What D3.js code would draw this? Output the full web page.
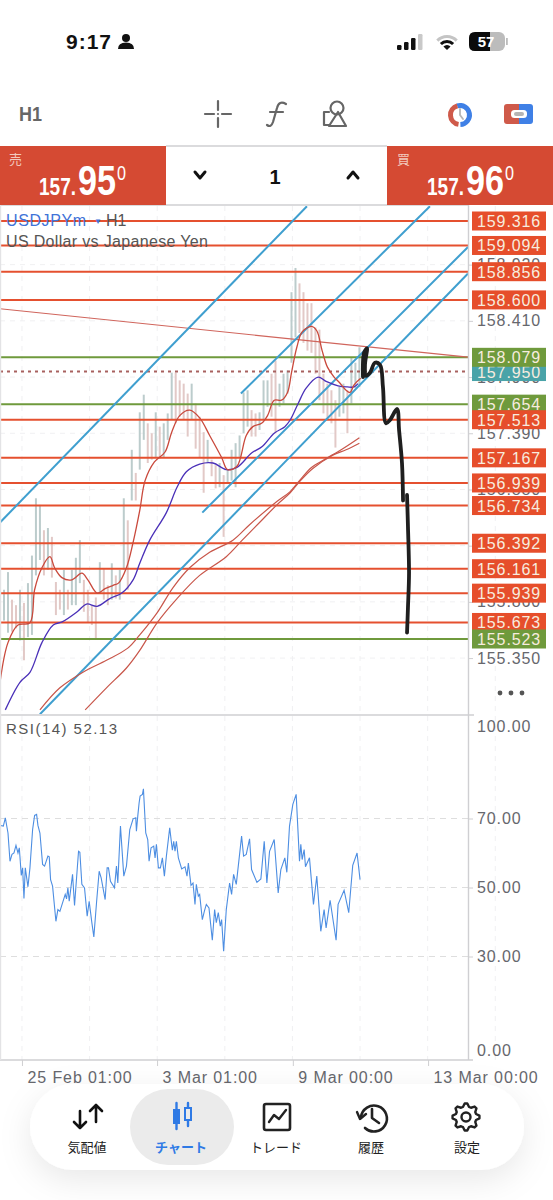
<!DOCTYPE html>
<html><head><meta charset="utf-8">
<script src="https://cdn.jsdelivr.net/npm/d3@7"></script>
<style>
html,body{margin:0;padding:0;background:#fff}
svg{display:block}
text{font-family:"Liberation Sans",Arial,sans-serif}
.cjk{font-family:"Noto Sans CJK JP",sans-serif}
</style></head><body>
<svg id="c" width="553" height="1200"></svg>
<script>
// ---------- data ----------
const symbol = "USDJPYm", period = "H1", description = "US Dollar vs Japanese Yen";
const bid = 157.950, ask = 157.960;
const priceTicks = [158.920,158.410,157.900,157.390,156.880,156.370,155.860,155.350];
const rsiTicks = [100,70,50,30,0];
const rsiLabel = "RSI(14) 52.13";
const timeTickPos = [16.5,118,220,321.6];
const timeTickLabels = ["25 Feb 01:00","3 Mar 01:00","9 Mar 00:00","13 Mar 00:00"];
const levelPrices = [159.316,159.094,158.856,158.600,158.079,157.654,157.513,157.167,156.939,156.734,156.392,156.161,155.939,155.673,155.523];
const levelKinds  = ["r","r","r","r","g","g","r","r","r","r","r","r","r","r","g"];

const barPos = d3.range(0,271,3);
const barHigh = [156.01,155.97,156.13,155.88,155.83,155.97,155.85,156.03,156.28,156.80,156.74,156.51,156.53,156.45,156.04,155.97,156.15,155.97,156.15,156.26,156.42,156.06,155.97,155.83,155.90,156.22,156.16,156.01,156.21,156.10,156.15,156.80,156.60,157.24,157.03,157.58,157.74,157.48,157.39,157.58,157.45,157.48,157.57,157.94,157.94,157.87,157.84,157.75,157.84,157.66,157.54,157.40,157.33,157.15,157.10,157.12,157.01,157.06,157.24,157.30,157.37,157.76,157.78,157.60,157.57,157.58,157.87,157.87,157.93,158.05,157.84,157.93,157.96,158.67,158.89,158.75,158.67,158.57,158.57,158.35,158.33,157.93,157.84,157.78,157.69,157.81,157.84,157.78,158.08,158.03,158.17];
const barLow = [155.65,155.69,155.58,155.59,155.62,155.51,155.33,155.54,155.56,156.10,156.24,156.10,156.15,156.08,155.74,155.79,155.74,155.79,155.83,155.83,156.03,155.77,155.67,155.65,155.53,155.94,155.88,155.83,155.88,155.89,155.88,156.15,155.97,156.78,156.78,157.06,157.33,157.12,157.15,157.17,157.16,157.17,157.33,157.51,157.48,157.54,157.51,157.36,157.51,157.25,157.17,156.85,157.12,157.00,156.89,156.90,156.45,156.94,156.96,156.90,157.17,157.39,157.45,157.36,157.36,157.42,157.51,157.63,157.54,157.39,157.63,157.66,157.75,158.03,158.26,158.30,158.21,158.14,158.12,157.93,157.69,157.57,157.51,157.48,157.26,157.54,157.57,157.39,157.66,157.80,157.81];

const fastPos = [0,6,13.5,22.5,26,31.5,37.5,41,46.5,54,61.5,66,73,79,85,89,95,100,105,109,116,124,129,135,142.5,150,157.5,166.5,171,178,185,190,196.5,201,206,211.5,216,219,223,227,234,238,242,246,251,255,260,263,266,271];
const fastVal = [155.13,155.49,155.65,155.67,155.97,156.17,156.27,156.17,156.08,156.06,156.12,156.06,155.94,155.98,156.01,156.03,156.17,156.40,156.69,156.96,157.13,157.22,157.40,157.55,157.60,157.53,157.37,157.17,157.06,157.09,157.37,157.45,157.48,157.55,157.69,157.69,157.76,157.94,158.17,158.31,158.36,158.32,158.14,157.99,157.90,157.85,157.78,157.76,157.83,157.89];
const midPos = [4,15,22.5,31.5,40,47,58,65,73,82.5,91.5,100,105,112.5,125,133,140,150,160,170,178,189,197,206,214,218,224,230,239,245,254,261,266,269];
const midVal = [154.88,155.13,155.22,155.49,155.65,155.68,155.77,155.84,155.82,155.89,155.94,156.06,156.21,156.42,156.67,156.90,157.04,157.11,157.12,157.06,157.08,157.21,157.27,157.39,157.45,157.51,157.66,157.80,157.90,157.86,157.82,157.81,157.81,157.84];
const slowAPos = [30,45,62,80,96,105,118,130,142.5,157.5,175,187.5,208,218,225,234,245,257.5,270];
const slowAVal = [154.88,155.08,155.22,155.33,155.44,155.56,155.76,155.99,156.17,156.31,156.42,156.56,156.77,156.86,156.96,157.08,157.16,157.25,157.35];
const slowBPos = [64,80,95,105,118,133,150,170,182,195,208,218,225,235,250,260,270];
const slowBVal = [154.88,155.08,155.26,155.42,155.67,155.89,156.10,156.27,156.42,156.58,156.74,156.85,156.95,157.07,157.19,157.24,157.30];

const channelPos = [[0,230.6],[181,323],[152,351.6],[30,351.6]];
const channelVal = [[156.58,159.45],[157.75,159.45],[156.67,159.08],[154.84,158.84]];
const trendPos = [0,351.6], trendVal = [158.52,158.08];

const sketchAPos = [272.7,273.5,275.7,274.2,275,278,281.7,285.5,287.7,290,293,298.3,299.8,302,302.8];
const sketchAVal = [157.90,158.12,158.16,158.01,157.91,157.94,158.03,158.01,157.81,157.48,157.51,157.61,157.42,157.12,156.78];
const sketchBPos = [305.8,306.5,307.3,306.5,305.8];
const sketchBVal = [156.83,156.54,156.12,155.81,155.58];

const rsiPos = [0,2.5,4,6,7.5,9,10.5,12,13.5,14.5,16,17,18,19,21,22.5,24.5,26,27.5,28.5,30,32,33.5,36,37,38,39.5,42,43.5,45,49,50,51,52,54.5,56,59,60,61.5,63.5,65.5,67,69,70.5,72.5,74.5,76,79,80.5,81.5,83,86,87.5,88.5,90.5,93,95,97.5,100,102,102.5,103.5,104.5,105.25,107,107.75,109.5,111,112,113.5,115.5,116.5,117.5,119,120.5,122,123.5,125,127.5,129.5,130.5,131.5,132.5,134,136.5,139,140.5,141.5,143.5,145,146.5,147.5,149,150,152,153.5,155,157,159.5,161.25,162.5,164,165.5,166.5,168,170,172.5,174,175.5,177.5,181.5,183,185,187.5,189,193,196,198.5,200.5,202.5,206,209,211,214,215.5,217.5,220,222.5,225,226,227,228.5,229.5,232.5,235.5,238,241,243.5,245,248,252.5,254,258.5,262,265,268.25,270.5];
const rsiVal = [68.0,67.8,70.2,65.8,57.6,59.6,60.0,62.2,60.0,61.5,53.5,55.7,46.8,55.7,50.2,55.7,66.8,70.9,71.2,68.0,65.8,56.7,56.2,59.1,58.9,52.3,50.4,40.2,43.6,43.1,48.0,46.7,49.9,46.0,53.8,44.8,60.5,60.2,50.9,49.9,41.7,46.0,39.8,35.7,45.5,54.7,52.8,46.5,55.7,55.7,51.8,49.9,56.2,51.3,67.8,53.3,56.2,66.8,69.9,70.2,66.3,70.7,74.5,76.5,77.0,78.6,65.8,63.9,57.6,61.5,62.0,58.6,62.5,55.7,55.7,58.6,53.3,59.1,67.3,60.8,63.4,60.5,63.4,58.6,55.4,56.0,53.3,57.1,50.6,51.3,45.1,50.9,47.5,48.0,40.7,43.1,45.1,44.1,34.7,43.6,39.8,42.7,38.8,40.7,31.5,43.6,51.3,48.0,53.8,50.9,64.9,59.1,59.6,64.1,55.2,51.5,52.5,63.4,51.3,60.5,63.9,48.4,55.2,58.6,54.4,67.8,74.1,77.0,57.6,62.5,58.1,61.0,56.0,58.6,45.1,53.3,37.3,43.6,38.3,46.3,34.7,45.1,49.2,42.7,56.4,60.0,52.3];

const navLabels = ["気配値","チャート","トレード","履歴","設定"];

// ---------- scales ----------
const svg = d3.select("#c");
const x = d3.scaleLinear().domain([0,351.6]).range([0,468]);
const y = d3.scaleLinear().domain([159.316,155.523]).range([221,639]);
const r = d3.scaleLinear().domain([100,0]).range([715,1060]);
const RED="#e5502f", GREEN="#6f9a3c", TEAL="#49a3a8", GREY="#66676d";
const line = (sy)=> d3.line().x(d=>x(d[0])).y(d=>sy(d[1]));
const pairs=(a,b)=>a.map((v,i)=>[v,b[i]]);

const defs = svg.append("defs");
defs.append("clipPath").attr("id","main").append("rect").attr("x",0).attr("y",206).attr("width",468).attr("height",508);
const f = defs.append("filter").attr("id","sh").attr("x","-20%").attr("y","-40%").attr("width","140%").attr("height","190%");
f.append("feDropShadow").attr("dx",0).attr("dy",10).attr("stdDeviation",16).attr("flood-color","#000").attr("flood-opacity",0.09);

// ---------- grid ----------
const grid = svg.append("g");
const vg=[]; for(let k=0;k<8;k++) vg.push(16.5+k*50.8);
grid.selectAll("line.v").data(vg).join("line").attr("x1",d=>x(d)).attr("x2",d=>x(d)).attr("y1",206).attr("y2",1060)
  .attr("stroke","#f0f0f2").attr("stroke-dasharray","5 5");
grid.selectAll("line.h").data(priceTicks).join("line").attr("x1",0).attr("x2",468).attr("y1",d=>y(d)).attr("y2",d=>y(d))
  .attr("stroke","#f0f0f2").attr("stroke-dasharray","5 5");
grid.selectAll("line.r").data([70,50,30]).join("line").attr("x1",0).attr("x2",468).attr("y1",d=>r(d)).attr("y2",d=>r(d))
  .attr("stroke","#dedede").attr("stroke-width",1.1).attr("stroke-dasharray","6 5");

// ---------- main pane ----------
const main = svg.append("g").attr("clip-path","url(#main)");
main.selectAll("line.bar").data(barPos).join("line")
  .attr("x1",d=>x(d)).attr("x2",d=>x(d))
  .attr("y1",(d,i)=>y(barHigh[i])).attr("y2",(d,i)=>y(barLow[i]))
  .attr("stroke",(d,i)=> (i && barHigh[i]+barLow[i] < barHigh[i-1]+barLow[i-1]) ? "#e2c9c7" : "#bccccc")
  .attr("stroke-width",2);
main.selectAll("line.lvl").data(levelPrices).join("line")
  .attr("x1",0).attr("x2",468).attr("y1",d=>y(d)).attr("y2",d=>y(d))
  .attr("stroke",(d,i)=>levelKinds[i]==="g"?GREEN:RED).attr("stroke-width",2);
main.append("line").attr("x1",0).attr("x2",468).attr("y1",y(bid)).attr("y2",y(bid))
  .attr("stroke","#a8615f").attr("stroke-width",2).attr("stroke-dasharray","3 4");
main.append("path").attr("d",line(y)(pairs(trendPos,trendVal))).attr("fill","none").attr("stroke","#d0655c").attr("stroke-width",1.2);
main.selectAll("path.ch").data(channelPos).join("path").attr("class","ch")
  .attr("d",(d,i)=>line(y)(pairs(d,channelVal[i]))).attr("fill","none").attr("stroke","#3f9fcf").attr("stroke-width",2);
const maStyle = [[slowAPos,slowAVal,"#c8564a",1.2],[slowBPos,slowBVal,"#c8564a",1.2],[midPos,midVal,"#4a30b8",1.3],[fastPos,fastVal,"#c9493c",1.3]];
maStyle.forEach(m=>main.append("path").attr("d",line(y).curve(d3.curveCatmullRom)(pairs(m[0],m[1]))).attr("fill","none").attr("stroke",m[2]).attr("stroke-width",m[3]));
[[sketchAPos,sketchAVal],[sketchBPos,sketchBVal]].forEach(s=>
  main.append("path").attr("d",line(y).curve(d3.curveCatmullRom)(pairs(s[0],s[1])))
   .attr("fill","none").attr("stroke","#1f1f1f").attr("stroke-width",3.8).attr("stroke-linecap","round").attr("stroke-linejoin","round"));

// ---------- legend ----------
const lg = svg.append("g");
lg.append("text").attr("x",6).attr("y",226).attr("font-size",16).attr("textLength",80).attr("fill","#3f73d8").text(symbol);
lg.append("text").attr("x",94).attr("y",224).attr("font-size",8).attr("fill","#3f73d8").text("▼");
lg.append("text").attr("x",106).attr("y",226).attr("font-size",16).attr("fill","#555").text(period);
lg.append("text").attr("x",6).attr("y",247).attr("font-size",16).attr("textLength",202).attr("fill","#555").text(description);

// ---------- RSI ----------
svg.append("path").attr("d",line(r)(pairs(rsiPos,rsiVal))).attr("fill","none").attr("stroke","#4d8ee2").attr("stroke-width",1.1);
svg.append("text").attr("x",6).attr("y",734).attr("font-size",15).attr("textLength",111).attr("fill","#555").text(rsiLabel);

// ---------- frames ----------
const frame = svg.append("g").attr("stroke","#cfcfd2").attr("stroke-width",1.4);
frame.append("line").attr("x1",0).attr("x2",468).attr("y1",205).attr("y2",205);
frame.append("line").attr("x1",0).attr("x2",474).attr("y1",715).attr("y2",715);
frame.append("line").attr("x1",0).attr("x2",473).attr("y1",1060).attr("y2",1060);
frame.append("line").attr("x1",468.5).attr("x2",468.5).attr("y1",205).attr("y2",1060);
frame.append("line").attr("x1",0.5).attr("x2",0.5).attr("y1",205).attr("y2",1060).attr("stroke","#e3e3e5");
frame.append("line").attr("x1",166).attr("x2",387).attr("y1",146).attr("y2",146);

// ---------- axes ----------
const styleAxis = g=>{ g.select(".domain").remove();
  g.selectAll(".tick line").attr("stroke","#cfcfd2");
  g.selectAll(".tick text").attr("fill",GREY).attr("font-family",'"Liberation Sans",Arial,sans-serif').attr("font-size",16).attr("letter-spacing",0.9);};
const py = svg.append("g").attr("transform","translate(468,0)")
  .call(d3.axisRight(y).tickValues(priceTicks).tickSize(5).tickPadding(4).tickFormat(d3.format(".3f"))).call(styleAxis);
const ry = svg.append("g").attr("transform","translate(468,0)")
  .call(d3.axisRight(r).tickValues(rsiTicks).tickSize(5).tickPadding(4).tickFormat(d3.format(".2f"))).call(styleAxis);
ry.selectAll(".tick text").attr("dy",d=> d===100 ? "1.0em" : d===0 ? "-0.3em" : "0.32em");
ry.selectAll(".tick line").filter(d=>d===0||d===100).remove();
const tx = svg.append("g").attr("transform","translate(0,1060)")
  .call(d3.axisBottom(x).tickValues(timeTickPos).tickSize(6).tickPadding(6).tickFormat((d,i)=>timeTickLabels[i])).call(styleAxis);
tx.selectAll(".tick text").attr("text-anchor","start").attr("x",5).attr("letter-spacing",0.9);

// ---------- level tags ----------
const tag=(p,col)=>{ const g=svg.append("g");
  g.append("rect").attr("x",472).attr("y",y(p)-9.5).attr("width",74).attr("height",19).attr("fill",col);
  g.append("text").attr("x",477).attr("y",y(p)+6).attr("font-size",16).attr("letter-spacing",0.9).attr("fill","#f7ecdf").text(d3.format(".3f")(p));};
tag(bid,TEAL);
levelPrices.forEach((p,i)=>tag(p,levelKinds[i]==="g"?GREEN:"#e64e2b"));
svg.append("g").selectAll("circle").data([500,511,522]).join("circle").attr("cx",d=>d).attr("cy",693).attr("r",2.4).attr("fill","#555");

// ---------- sell / buy ----------
const SB="#d54a33";
svg.append("rect").attr("x",0).attr("y",146).attr("width",166).attr("height",59).attr("fill",SB);
svg.append("rect").attr("x",387).attr("y",146).attr("width",166).attr("height",59).attr("fill",SB);
const fit=(t,xx,yy,size,len,w,fam)=>svg.append("text").attr("x",xx).attr("y",yy).attr("font-size",size).attr("font-weight",w)
  .attr("fill","#fff").attr("textLength",len).attr("lengthAdjust","spacingAndGlyphs").attr("font-family",fam||"Roboto").text(t);
svg.append("text").attr("class","cjk").attr("x",9).attr("y",164).attr("font-size",13).attr("fill","#f2c9bd").text("売");
svg.append("text").attr("class","cjk").attr("x",397).attr("y",164).attr("font-size",13).attr("fill","#f2c9bd").text("買");
const pb=d3.format(".3f")(bid), pa=d3.format(".3f")(ask);
fit(pb.slice(0,4),39,195,24,37,700); fit(pb.slice(4,6),78,195,42,38,700); fit(pb.slice(6),117,180,20,9,500);
fit(pa.slice(0,4),427,195,24,37,700); fit(pa.slice(4,6),466,195,42,38,700); fit(pa.slice(6),505,180,20,9,500);
const dark=(d,sw,c)=>svg.append("path").attr("d",d).attr("fill","none").attr("stroke",c||"#111").attr("stroke-width",sw||2).attr("stroke-linecap","round").attr("stroke-linejoin","round");
dark("M195 172L200 178L205 172",3);
dark("M348 178L353 172L358 178",3);
svg.append("text").attr("x",275).attr("y",184).attr("text-anchor","middle").attr("font-size",20).attr("font-weight",700).attr("fill","#111").text("1");

// ---------- status bar ----------
svg.append("text").attr("x",66).attr("y",49).attr("font-size",21).attr("font-weight",600).attr("font-family","Inter").attr("fill","#111").attr("textLength",45).text("9:17");
svg.append("circle").attr("cx",126).attr("cy",38).attr("r",4).attr("fill","#111");
svg.append("path").attr("d","M118 49q0-6.5 8-6.5t8 6.5z").attr("fill","#111");
[[397,5],[404,8],[411,12],[418,16]].forEach((b,i)=>svg.append("rect").attr("x",b[0]).attr("y",50-b[1]).attr("width",4.5).attr("height",b[1]).attr("rx",1.2).attr("fill",i===3?"#c9c9c9":"#111"));
const arcG=d3.arc();
[[0,5,"#111"],[7,10,"#111"],[12,15,"#c4c4c4"]].forEach(a=>svg.append("path").attr("transform","translate(447,50)")
  .attr("d",arcG({innerRadius:a[0],outerRadius:a[1],startAngle:-0.8,endAngle:0.8})).attr("fill",a[2]));
svg.append("rect").attr("x",469).attr("y",32).attr("width",36).attr("height",19).attr("rx",6).attr("fill","#bcbcbc");
svg.append("path").attr("d","M475 32H490V51H475Q469 51 469 45V38Q469 32 475 32Z").attr("fill","#0b0b0b");
svg.append("rect").attr("x",506).attr("y",38).attr("width",1.8).attr("height",7).attr("fill","#bcbcbc");
svg.append("text").attr("x",486).attr("y",47).attr("text-anchor","middle").attr("font-size",15).attr("font-weight",700).attr("fill","#fff").text("57");

// ---------- toolbar ----------
svg.append("text").attr("x",19).attr("y",121).attr("font-size",21).attr("font-weight",700).attr("font-family","Roboto").attr("fill","#666").attr("textLength",23).attr("lengthAdjust","spacingAndGlyphs").text(period);
dark("M205 114H214M222 114H231M218 101V110M218 118V127",2.2,"#666");
svg.append("circle").attr("cx",218).attr("cy",114).attr("r",1.1).attr("fill","#666");
dark("M286 104Q279 100 277 108L273 122Q271 128 267 125M270 112H283",2.2,"#666");
dark("M329 112H324V125H329",2.2,"#666");
svg.append("circle").attr("cx",337).attr("cy",108).attr("r",6.5).attr("fill","none").attr("stroke","#666").attr("stroke-width",2.2);
dark("M329 126L338 112L346 126Z",2.2,"#666");
svg.append("path").attr("transform","translate(460,115)").attr("d",arcG({innerRadius:7,outerRadius:12,startAngle:-0.3,endAngle:3.1})).attr("fill","#3f80e6");
svg.append("path").attr("transform","translate(460,115)").attr("d",arcG({innerRadius:7,outerRadius:12,startAngle:3.3,endAngle:6})).attr("fill","#cf5a4a");
dark("M460 109V115L463 119",1.8,"#b5b5b5");
svg.append("path").attr("d","M507 104H519V124H507Q504 124 504 121V107Q504 104 507 104Z").attr("fill","#cf5a4a");
svg.append("path").attr("d","M519 104H530Q533 104 533 107V121Q533 124 530 124H519Z").attr("fill","#3f80e6");
svg.append("rect").attr("x",511).attr("y",110).attr("width",16).attr("height",8).attr("rx",3.5).attr("fill","#fff");
svg.append("rect").attr("x",514).attr("y",112).attr("width",10).attr("height",4).attr("rx",2).attr("fill","#b5b5b5");

// ---------- nav ----------
svg.append("rect").attr("x",30).attr("y",1084).attr("width",494).attr("height",86).attr("rx",43).attr("fill","#fff").attr("filter","url(#sh)");
svg.append("rect").attr("x",130).attr("y",1089).attr("width",104).attr("height",76).attr("rx",38).attr("fill","#ebebeb");
const navX=[87,181,276,371,467];
svg.selectAll("text.nav").data(navLabels).join("text").attr("class","cjk nav").attr("x",(d,i)=>navX[i]).attr("y",1152)
  .attr("text-anchor","middle").attr("font-size",13).attr("font-weight",(d,i)=>i===1?700:400).attr("fill",(d,i)=>i===1?"#2f7ae5":"#222").text(d=>d);
dark("M80 1111V1128M74 1122L80 1128L86 1122",2.6);
dark("M96 1105V1122M90 1111L96 1105L102 1111",2.6);
const B="#2f7ae5";
svg.append("rect").attr("x",173).attr("y",1109).attr("width",7).attr("height",15).attr("fill",B);
dark("M176.5 1103V1129M188 1103V1126",2.4,B);
svg.append("rect").attr("x",185).attr("y",1108).attr("width",6).attr("height",12).attr("fill","#ebebeb").attr("stroke",B).attr("stroke-width",2);
svg.append("rect").attr("x",264).attr("y",1104).attr("width",26).attr("height",26).attr("rx",2).attr("fill","none").attr("stroke","#222").attr("stroke-width",2.6);
dark("M269 1122L274 1115L279 1119L286 1110",2.4,"#222");
dark("M361 1117A13 13 0 1 1 365 1128",2.6,"#222");
dark("M357 1112L360 1119L366 1114",2.4,"#222");
dark("M372 1109V1118L379 1123",2.6,"#222");
const gearR=[], n=8; for(let k=0;k<n*4;k++){const rr=(k%4===0||k%4===1)?13.5:10.5; gearR.push([(k-0.5)*Math.PI*2/(n*4)-Math.PI/2,rr]);}
svg.append("path").attr("transform","translate(466,1117)").attr("d",d3.lineRadial().curve(d3.curveLinearClosed)(gearR)).attr("fill","none").attr("stroke","#222").attr("stroke-width",2.4).attr("stroke-linejoin","round");
svg.append("circle").attr("cx",466).attr("cy",1117).attr("r",4.5).attr("fill","none").attr("stroke","#222").attr("stroke-width",2.4);
</script></body></html>
